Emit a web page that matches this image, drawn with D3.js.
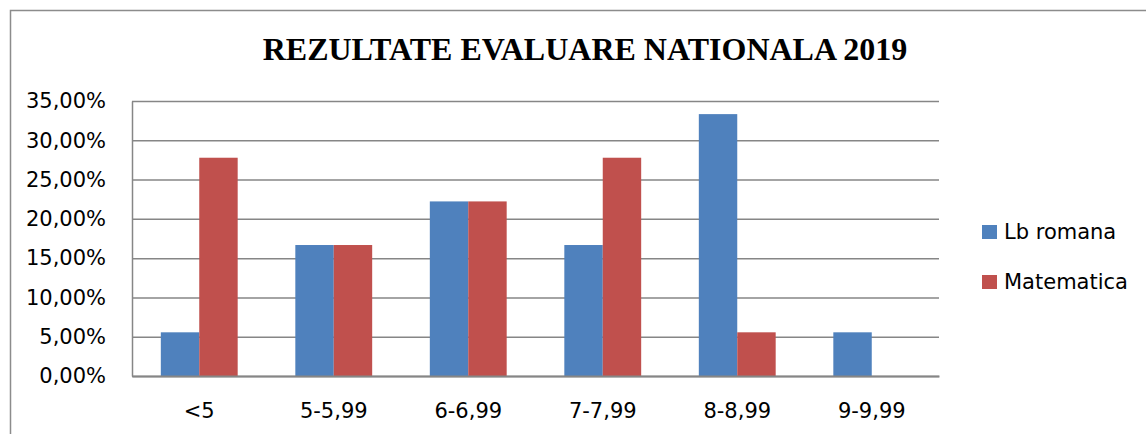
<!DOCTYPE html>
<html>
<head>
<meta charset="utf-8">
<script src="https://cdn.jsdelivr.net/npm/d3@7"></script>
<style>
  body { margin: 0; background: #fff; }
  svg { display: block; }
  .tick text { font-family: "DejaVu Sans", sans-serif; font-size: 21px; fill: #000; }
</style>
</head>
<body>
<div id="chart"></div>
<script>
const width = 1146;
const height = 434;

const categories = ["<5", "5-5,99", "6-6,99", "7-7,99", "8-8,99", "9-9,99"];
const seriesNames = ["Lb romana", "Matematica"];
const lbRomana = [0.0556, 0.1667, 0.2222, 0.1667, 0.3333, 0.0556];
const matematica = [0.2778, 0.1667, 0.2222, 0.2778, 0.0556, 0];
const yTicks = [0, 0.05, 0.1, 0.15, 0.2, 0.25, 0.3, 0.35];

const colors = ["#4f81bd", "#c0504d"];
const plot = { left: 132, right: 939, top: 101, bottom: 376 };

const formatPct = function (d) {
  return (d * 100).toFixed(2).replace(".", ",") + "%";
};

const svg = d3
  .select("#chart")
  .append("svg")
  .attr("width", width)
  .attr("height", height);

// outer chart border (runs off the right and bottom of the picture)
svg
  .append("rect")
  .attr("x", 10.5)
  .attr("y", 10.5)
  .attr("width", 1300)
  .attr("height", 600)
  .attr("fill", "none")
  .attr("stroke", "#8c8c8c")
  .attr("stroke-width", 1.5);

svg
  .append("text")
  .attr("x", 585)
  .attr("y", 60)
  .attr("text-anchor", "middle")
  .style("font-family", "'Liberation Serif', 'Times New Roman', serif")
  .style("font-weight", "bold")
  .style("font-size", "32px")
  .text("REZULTATE EVALUARE NATIONALA 2019");

const x0 = d3
  .scaleBand()
  .domain(categories)
  .range([plot.left, plot.right])
  .paddingInner(0)
  .paddingOuter(0);

const x1 = d3
  .scaleBand()
  .domain(seriesNames)
  .range([0, x0.bandwidth()])
  .paddingInner(0)
  .paddingOuter(0.75);

const y = d3.scaleLinear().domain([0, 0.35]).range([plot.bottom, plot.top]);

// gridlines + y labels
const yAxis = d3
  .axisLeft(y)
  .tickValues(yTicks)
  .tickFormat(formatPct)
  .tickSizeInner(-(plot.right - plot.left))
  .tickSizeOuter(0)
  .tickPadding(26);

const gy = svg
  .append("g")
  .attr("transform", "translate(" + plot.left + ",0)")
  .call(yAxis);
gy.select(".domain").attr("stroke", "#868686").attr("stroke-width", 1.5);
gy.selectAll(".tick line").attr("stroke", "#868686").attr("stroke-width", 1.5);

const rows = categories.map(function (c, i) {
  return { cat: c, values: [lbRomana[i], matematica[i]] };
});

svg
  .append("g")
  .selectAll("g")
  .data(rows)
  .enter()
  .append("g")
  .attr("transform", function (d) {
    return "translate(" + x0(d.cat) + ",0)";
  })
  .selectAll("rect")
  .data(function (d) {
    return d.values.map(function (v, i) {
      return { key: seriesNames[i], value: v, i: i };
    });
  })
  .enter()
  .append("rect")
  .attr("x", function (d) {
    return x1(d.key);
  })
  .attr("y", function (d) {
    return y(d.value);
  })
  .attr("width", x1.bandwidth())
  .attr("height", function (d) {
    return y(0) - y(d.value);
  })
  .attr("fill", function (d) {
    return colors[d.i];
  });

// x axis
const xAxis = d3.axisBottom(x0).tickSize(0).tickPadding(27);
const gx = svg
  .append("g")
  .attr("transform", "translate(0," + plot.bottom + ")")
  .call(xAxis);
gx.select(".domain").attr("stroke", "#868686").attr("stroke-width", 2);

// legend
const legend = svg.append("g").attr("class", "legend");
seriesNames.forEach(function (name, i) {
  const g = legend
    .append("g")
    .attr("transform", "translate(982," + (232 + i * 50) + ")");
  g.append("rect")
    .attr("x", 0)
    .attr("y", -7)
    .attr("width", 15)
    .attr("height", 14)
    .attr("fill", colors[i]);
  g.append("text")
    .attr("x", 22)
    .attr("y", 0)
    .attr("dy", "0.35em")
    .style("font-family", "'DejaVu Sans', sans-serif")
    .style("font-size", "21px")
    .text(name);
});
</script>
</body>
</html>
